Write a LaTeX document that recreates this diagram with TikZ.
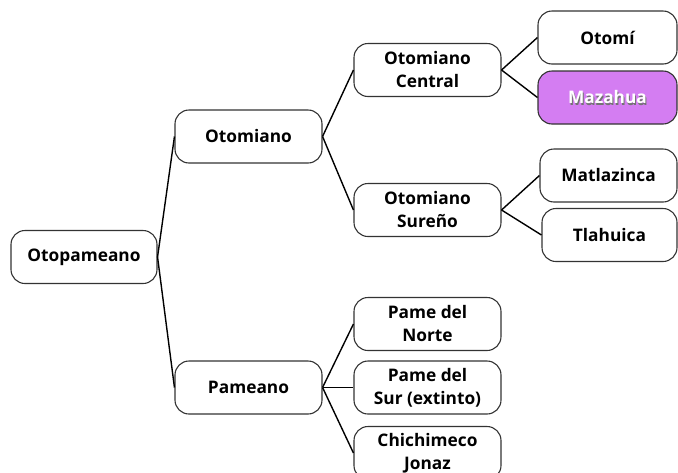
\documentclass[tikz,border=0pt]{standalone}
\usepackage{fontspec}
\setmainfont{Open Sans}
\usepackage{tikz}
\usetikzlibrary{calc}
\definecolor{mazfill}{HTML}{D47DF2}

\begin{document}
\begin{tikzpicture}[x=1pt,y=-1pt]
% — styles ––––––––––––––––––––––––––
\tikzstyle{langfont}=[font=\fontsize{17.3}{23}\selectfont\bfseries]
\tikzstyle{langbox} =[langfont,draw=black!80,line width=1.1pt,rounded corners=14pt,align=center,
                      inner sep=0pt,minimum height=53pt,text=black]
\tikzstyle{branch}  =[black,line width=1.4pt]
\tikzstyle{hilite}  =[fill=mazfill,draw=black!80]

\useasboundingbox (0,0) rectangle (678,472);

% --- root and first level --------------------------------------
\node[langbox,minimum width=146pt] (otopameano) at (84,257) {Otopameano};
\node[langbox,minimum width=147pt] (otomiano)   at (248.5,136.5) {Otomiano};
\node[langbox,minimum width=147pt] (pameano)    at (248.5,387.5) {Pameano};

% --- second level ------------------------------------------------
\node[langbox,minimum width=147pt] (otcentral)  at (427.5,70)    {Otomiano\\Central};
\node[langbox,minimum width=147pt] (otsureno)   at (427.5,210)   {Otomiano\\Sureño};
\node[langbox,minimum width=147pt] (pnorte)     at (427.5,324)   {Pame del\\Norte};
\node[langbox,minimum width=147pt] (psur)       at (427.5,387.5) {Pame del\\Sur (extinto)};
\node[langbox,minimum width=147pt] (chichimeco) at (427.5,453)   {Chichimeco\\Jonaz};

% --- leaves on the right -----------------------------------------
\node[langbox,minimum width=139pt] (otomi)      at (607.5,37.5)  {Otomí};
\node[langbox,hilite,minimum width=139pt] (mazahua) at (607.5,97.5) {};
\node[langfont,text=black!55] (mazshadow) at ($(mazahua)+(1,1.3)$) {Mazahua};
\node[langfont,text=white] (maztext) at (mazahua) {Mazahua};
\node[langbox,minimum width=137pt] (matlazinca) at (608.5,175.5) {Matlazinca};
\node[langbox,minimum width=135pt] (tlahuica)   at (609.5,235)   {Tlahuica};

% --- branches ----------------------------------------------------
\draw[branch] (otopameano.east) -- (otomiano.west);
\draw[branch] (otopameano.east) -- (pameano.west);
\draw[branch] (otomiano.east) -- (otcentral.west);
\draw[branch] (otomiano.east) -- (otsureno.west);
\draw[branch] (otcentral.east) -- (otomi.west);
\draw[branch] (otcentral.east) -- (mazahua.west);
\draw[branch] (otsureno.east) -- (matlazinca.west);
\draw[branch] (otsureno.east) -- (tlahuica.west);
\draw[branch] (pameano.east) -- (pnorte.west);
\draw[branch] (pameano.east) -- (psur.west);
\draw[branch] (pameano.east) -- (chichimeco.west);

\end{tikzpicture}
\end{document}
